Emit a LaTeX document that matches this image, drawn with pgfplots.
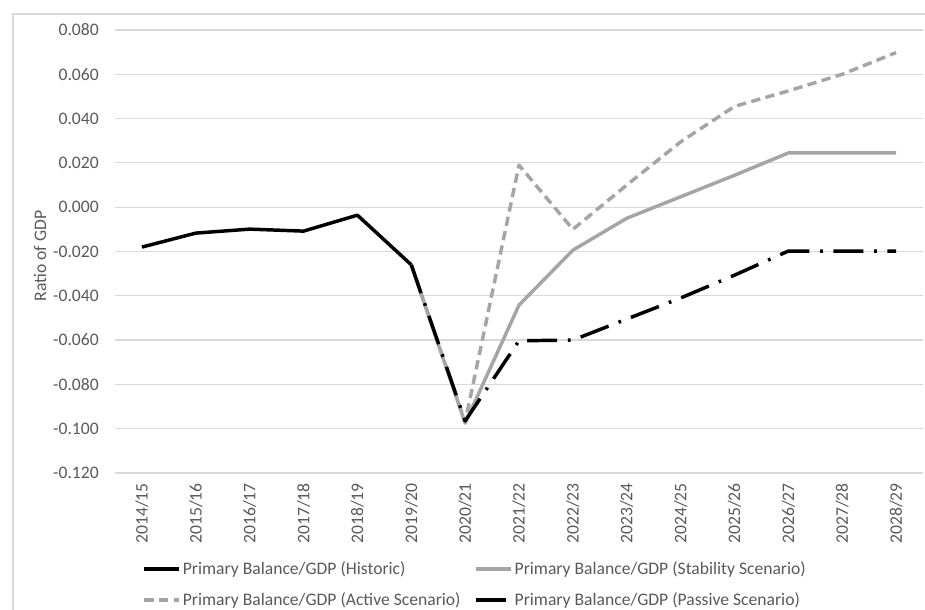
\documentclass[border=0pt]{standalone}
\usepackage{fontspec}
\setmainfont{Carlito}
\usepackage{pgfplots}
\pgfplotsset{compat=1.18}

\definecolor{txtgray}{HTML}{595959}
\definecolor{gridgray}{HTML}{D9D9D9}
\definecolor{scengray}{HTML}{A5A5A5}

\begin{document}
\begin{tikzpicture}[font=\fontsize{13.2}{15.8}\selectfont]
\useasboundingbox (0,0) rectangle (693.75pt,457.5pt);
% chart area frame (left and top edges)
\draw[gridgray, line width=0.9pt] (9.75pt,0) -- (9.75pt,447pt) -- (693.75pt,447pt);
\begin{axis}[
  at={(86.25pt,102.75pt)}, anchor=south west,
  scale only axis, width=606pt, height=332.25pt,
  xmin=-0.5, xmax=14.5, ymin=-0.12, ymax=0.08,
  axis line style={draw=none},
  major tick length=0pt,
  xtick={0,...,14},
  xticklabels={2014/15,2015/16,2016/17,2017/18,2018/19,2019/20,2020/21,2021/22,2022/23,2023/24,2024/25,2025/26,2026/27,2027/28,2028/29},
  ytick={-0.12,-0.1,-0.08,-0.06,-0.04,-0.02,0,0.02,0.04,0.06,0.08},
  yticklabels={-0.120,-0.100,-0.080,-0.060,-0.040,-0.020,0.000,0.020,0.040,0.060,0.080},
  ymajorgrids, grid style={gridgray, line width=0.9pt},
  tick label style={text=txtgray, inner sep=0pt},
  xticklabel style={rotate=90, anchor=east},
  xticklabel shift=7.5pt,
  yticklabel shift=12pt,
  ylabel={Ratio of GDP},
  every axis y label/.style={at={(axis description cs:-0.0928,0.49)}, rotate=90, anchor=center, text=txtgray},
  legend columns=2,
  legend cell align=left,
  legend style={at={(axis description cs:0.034,-0.1945)}, anchor=north west, draw=none, fill=none,
    inner sep=0pt, row sep=9.3pt, text=txtgray,
    nodes={inner sep=1.5pt},
    /tikz/every even column/.append style={column sep=9pt}},
  legend image code/.code={\draw[#1, line cap=butt] (0pt,0pt) -- (26pt,0pt);},
  every axis plot/.append style={line width=2.6pt, line join=round},
]
% Historic
\addplot[black] coordinates {
  (0,-0.0180) (1,-0.0117) (2,-0.0099) (3,-0.0108) (4,-0.0036) (5,-0.0260)
};
\addlegendentry{Primary Balance/GDP (Historic)}
% Stability scenario
\addplot[scengray] coordinates {
  (5,-0.0260) (6,-0.0975) (7,-0.0442) (8,-0.0194) (9,-0.0050) (10,0.0047)
  (11,0.0144) (12,0.0245) (13,0.0245) (14,0.0245)
};
\addlegendentry{Primary Balance/GDP (Stability Scenario)}
% Active scenario
\addplot[scengray, line cap=butt, dash pattern=on 7pt off 4pt] coordinates {
  (5,-0.0260) (6,-0.0970) (7,0.0190) (8,-0.0100) (9,0.0100) (10,0.0295)
  (11,0.0455) (12,0.0525) (13,0.0600) (14,0.0698)
};
\addlegendentry{Primary Balance/GDP (Active Scenario)}
% Passive scenario
\addplot[black, line cap=butt, dash pattern=on 22.5pt off 8pt on 2pt off 8pt] coordinates {
  (5,-0.0260) (6,-0.0965) (7,-0.0603) (8,-0.0600) (9,-0.0505) (10,-0.0410)
  (11,-0.0307) (12,-0.0198) (13,-0.0198) (14,-0.0198)
};
\addlegendentry{Primary Balance/GDP (Passive Scenario)}
\end{axis}
\end{tikzpicture}
\end{document}
